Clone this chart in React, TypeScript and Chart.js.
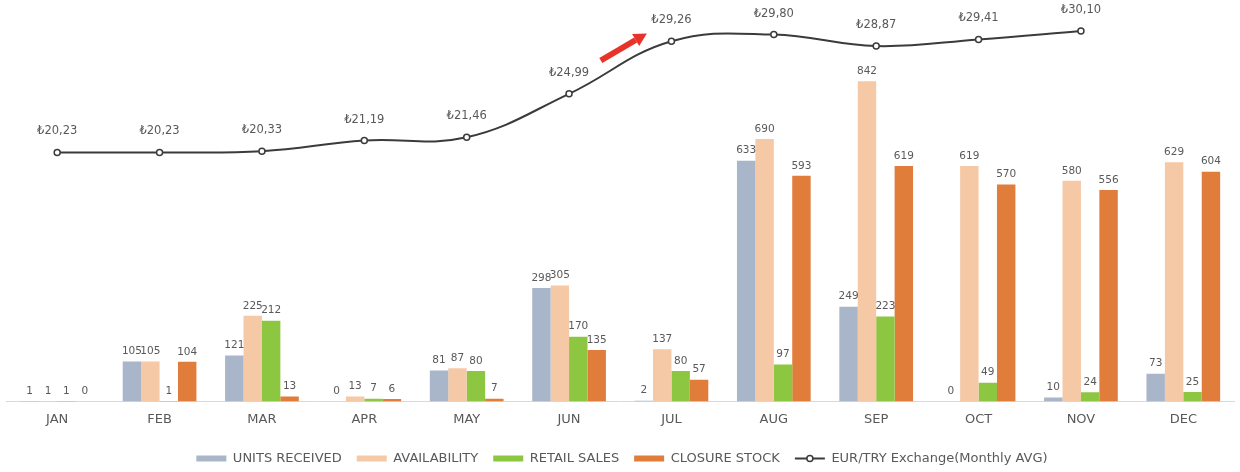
import React, { useEffect, useRef } from "react";
import { Chart, registerables } from "chart.js";

Chart.register(...registerables);

const months = ["JAN", "FEB", "MAR", "APR", "MAY", "JUN", "JUL", "AUG", "SEP", "OCT", "NOV", "DEC"];
const unitsReceived = [1, 105, 121, 0, 81, 298, 2, 633, 249, 0, 10, 73];
const availability = [1, 105, 225, 13, 87, 305, 137, 690, 842, 619, 580, 629];
const retailSales = [1, 1, 212, 7, 80, 170, 80, 97, 223, 49, 24, 25];
const closureStock = [0, 104, 13, 6, 7, 135, 57, 593, 619, 570, 556, 604];
const eurTry: (number | null)[] = [20.23, 20.23, 20.33, 21.19, 21.46, 24.99, 29.26, 29.8, 28.87, 29.41, 30.1, null];

// red arrow annotation (category index, exchange value)
const arrowFrom = { index: 5.31, value: 27.7 };
const arrowTo = { index: 5.76, value: 29.9 };

const FONT = "'DejaVu Sans', Verdana, sans-serif";
const TEXT = "#595959";
const LINE = "#3b3b3b";

const labelPlugin = {
  id: "valueLabels",
  afterDatasetsDraw(chart: any) {
    const ctx = chart.ctx;
    ctx.save();
    ctx.textAlign = "center";
    ctx.textBaseline = "middle";
    ctx.fillStyle = TEXT;
    chart.data.datasets.forEach((ds: any, i: number) => {
      const meta = chart.getDatasetMeta(i);
      meta.data.forEach((el: any, j: number) => {
        const v = ds.data[j];
        if (v === null || v === undefined) return;
        if (meta.type === "bar") {
          ctx.font = `10.5px ${FONT}`;
          ctx.fillText(String(v), el.x, el.y - 10);
        } else {
          ctx.font = `11.5px ${FONT}`;
          ctx.fillText("\u20BA" + v.toFixed(2).replace(".", ","), el.x, el.y - 21);
        }
      });
    });
    // arrow
    const xs = chart.scales.x;
    const ys = chart.scales.y1;
    const x1 = xs.getPixelForValue(arrowFrom.index);
    const y1 = ys.getPixelForValue(arrowFrom.value);
    const x2 = xs.getPixelForValue(arrowTo.index);
    const y2 = ys.getPixelForValue(arrowTo.value);
    const ang = Math.atan2(y2 - y1, x2 - x1);
    const headLen = 13;
    const headW = 7;
    const bx = x2 - headLen * Math.cos(ang);
    const by = y2 - headLen * Math.sin(ang);
    ctx.strokeStyle = "#e8332a";
    ctx.fillStyle = "#e8332a";
    ctx.lineWidth = 6;
    ctx.lineCap = "butt";
    ctx.beginPath();
    ctx.moveTo(x1, y1);
    ctx.lineTo(bx, by);
    ctx.stroke();
    ctx.beginPath();
    ctx.moveTo(x2, y2);
    ctx.lineTo(bx + headW * Math.sin(ang), by - headW * Math.cos(ang));
    ctx.lineTo(bx - headW * Math.sin(ang), by + headW * Math.cos(ang));
    ctx.closePath();
    ctx.fill();
    ctx.restore();
  },
  afterDraw(chart: any) {
    const legend = chart.legend;
    if (!legend || !legend.legendHitBoxes) return;
    const hb = legend.legendHitBoxes[4];
    if (!hb) return;
    const ctx = chart.ctx;
    const cy = hb.top + hb.height / 2;
    ctx.save();
    ctx.strokeStyle = LINE;
    ctx.lineWidth = 2;
    ctx.beginPath();
    ctx.moveTo(hb.left, cy);
    ctx.lineTo(hb.left + 30, cy);
    ctx.stroke();
    ctx.beginPath();
    ctx.arc(hb.left + 15, cy, 3, 0, Math.PI * 2);
    ctx.fillStyle = "#ffffff";
    ctx.fill();
    ctx.lineWidth = 1.5;
    ctx.stroke();
    ctx.restore();
  },
};

export default function App() {
  const ref = useRef<HTMLCanvasElement | null>(null);
  useEffect(() => {
    document.body.style.margin = "0";
    if (!ref.current) return;
    const defaultGen = (Chart.defaults as any).plugins.legend.labels.generateLabels;
    const chart = new Chart(ref.current, {
      type: "bar",
      data: {
        labels: months,
        datasets: [
          { type: "bar", label: "UNITS RECEIVED", data: unitsReceived, backgroundColor: "#a9b6c9", yAxisID: "y", categoryPercentage: 0.72, barPercentage: 1 },
          { type: "bar", label: "AVAILABILITY", data: availability, backgroundColor: "#f5c8a6", yAxisID: "y", categoryPercentage: 0.72, barPercentage: 1 },
          { type: "bar", label: "RETAIL SALES", data: retailSales, backgroundColor: "#8dc641", yAxisID: "y", categoryPercentage: 0.72, barPercentage: 1 },
          { type: "bar", label: "CLOSURE STOCK", data: closureStock, backgroundColor: "#e07d3b", yAxisID: "y", categoryPercentage: 0.72, barPercentage: 1 },
          {
            type: "line",
            label: "EUR/TRY Exchange(Monthly AVG)",
            data: eurTry as any,
            yAxisID: "y1",
            borderColor: LINE,
            borderWidth: 2,
            tension: 0.4,
            pointRadius: 3,
            pointBorderWidth: 1.5,
            pointBackgroundColor: "#ffffff",
            pointBorderColor: LINE,
            backgroundColor: "#ffffff",
          } as any,
        ],
      },
      options: {
        animation: false,
        responsive: true,
        maintainAspectRatio: false,
        layout: { padding: { left: 6, right: 2, top: 10, bottom: -3 } },
        scales: {
          x: {
            grid: { display: false, drawTicks: false },
            border: { display: true, color: "#d9d9d9", width: 1 },
            ticks: { color: TEXT, font: { family: FONT, size: 13 }, padding: 10 },
          },
          y: { display: false, min: 0, max: 1029 },
          y1: { display: false, min: 0, max: 31.8 },
        },
        plugins: {
          tooltip: { enabled: false },
          legend: {
            position: "bottom",
            labels: {
              boxWidth: 30,
              boxHeight: 6,
              padding: 15,
              color: TEXT,
              font: { family: FONT, size: 13 },
              generateLabels: (c: any) => {
                const items = defaultGen(c);
                items.forEach((it: any, idx: number) => {
                  it.lineWidth = 0;
                  if (idx === 4) {
                    it.fillStyle = "rgba(0,0,0,0)";
                    it.strokeStyle = "rgba(0,0,0,0)";
                  }
                });
                return items;
              },
            },
          },
        },
      },
      plugins: [labelPlugin],
    } as any);
    return () => chart.destroy();
  }, []);
  return (
    <div style={{ width: 1240, height: 472, position: "relative" }}>
      <canvas ref={ref} />
    </div>
  );
}
